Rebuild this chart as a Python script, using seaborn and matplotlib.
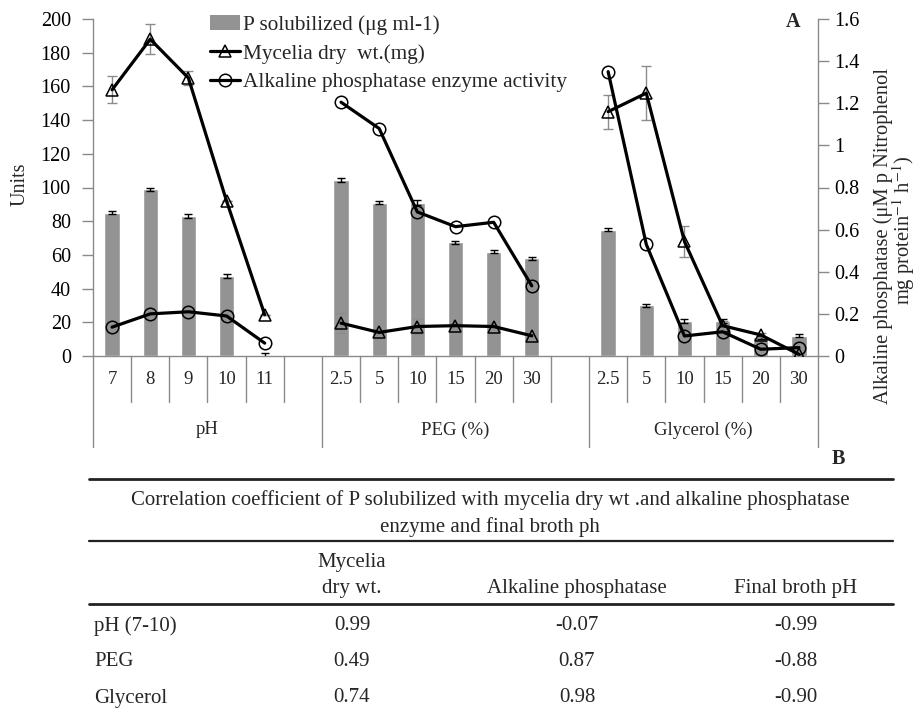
import numpy as np
import pandas as pd
import matplotlib
matplotlib.use("Agg")
import matplotlib.pyplot as plt
from matplotlib.lines import Line2D
from matplotlib.patches import Patch
from matplotlib.ticker import FuncFormatter
import seaborn as sns

# ---------------- data ----------------
groups = ["pH", "PEG (%)", "Glycerol (%)"]
ph_levels = ["7", "8", "9", "10", "11"]
peg_levels = ["2.5", "5", "10", "15", "20", "30"]
gly_levels = ["2.5", "5", "10", "15", "20", "30"]

p_sol_ph = [85, 99, 83, 47.5, 0.5]
p_sol_peg = [104.5, 91, 91, 67.5, 62, 58]
p_sol_gly = [75, 30, 21, 20.5, 11, 12]
p_err_ph = [1, 1, 1, 1.2, 1]
p_err_peg = [1, 1, 1.5, 1, 1, 1]
p_err_gly = [1, 1, 1.2, 1.2, 1, 1]

myc_ph = [158, 188, 165, 92, 24.5]
myc_peg = [19.5, 14, 17.5, 18, 17.5, 12]
myc_gly = [145, 156, 68, 18, 12.5, 1]
myc_err_ph = [8, 9, 4, 0, 0]
myc_err_peg = [6, 1, 4.5, 1.5, 1, 1]
myc_err_gly = [10, 16, 9, 3, 1, 1]

alk_ph = [0.137, 0.20, 0.21, 0.19, 0.061]
alk_peg = [1.205, 1.08, 0.684, 0.614, 0.635, 0.333]
alk_gly = [1.35, 0.53, 0.095, 0.115, 0.032, 0.04]

legend_labels = ["P solubilized (\u03bcg ml-1)", "Mycelia dry  wt.(mg)",
                 "Alkaline phosphatase enzyme activity"]

table_title = ["Correlation coefficient of P solubilized with mycelia dry wt .and alkaline phosphatase",
               "enzyme and final broth ph"]
table_cols = ["Mycelia\ndry wt.", "Alkaline phosphatase", "Final broth pH"]
table_rows = ["pH (7-10)", "PEG", "Glycerol"]
corr_mycelia = [0.99, 0.49, 0.74]
corr_alkaline = [-0.07, 0.87, 0.98]
corr_final_ph = [-0.99, -0.88, -0.90]

# ---------------- build long table ----------------
levels = [ph_levels, peg_levels, gly_levels]
psol = [p_sol_ph, p_sol_peg, p_sol_gly]
perr = [p_err_ph, p_err_peg, p_err_gly]
myc = [myc_ph, myc_peg, myc_gly]
mycerr = [myc_err_ph, myc_err_peg, myc_err_gly]
alk = [alk_ph, alk_peg, alk_gly]

rows = []
group_bounds = []
offset = 0
for gi, g in enumerate(groups):
    start = offset
    for li, lev in enumerate(levels[gi]):
        rows.append(dict(slot=offset + li, group=g, level=lev,
                         P=psol[gi][li], P_err=perr[gi][li],
                         myc=myc[gi][li], myc_err=mycerr[gi][li],
                         alk=alk[gi][li]))
    n = len(levels[gi]) + (1 if gi < len(groups) - 1 else 0)
    group_bounds.append((start, start + n))
    offset += n
n_slots = offset
df = pd.DataFrame(rows)

# ---------------- style ----------------
sns.set_theme(style="white")
serif = ["Liberation Serif", "DejaVu Serif"]
plt.rcParams["font.family"] = serif
plt.rcParams["mathtext.fontset"] = "stix"
gray_axis = "#8a8a8a"
bar_color = "#939393"

W, H = 920, 712
fig = plt.figure(figsize=(W / 100, H / 100), dpi=100)
fig.patch.set_facecolor("white")

ax_l, ax_r, ax_t, ax_b = 93, 818, 19, 356
ax = fig.add_axes([ax_l / W, 1 - ax_b / H, (ax_r - ax_l) / W, (ax_b - ax_t) / H])

sns.barplot(data=df, x="slot", y="P", order=list(range(n_slots)), color=bar_color,
            saturation=1, width=0.4, errorbar=None, ax=ax, zorder=1)
ax.errorbar(df["slot"], df["P"], yerr=df["P_err"], fmt="none", ecolor="black",
            elinewidth=1.0, capsize=3, capthick=1.0, zorder=2)

ax.errorbar(df["slot"], df["myc"], yerr=df["myc_err"], fmt="none", ecolor="#8c8c8c",
            elinewidth=1.0, capsize=3.5, capthick=1.0, zorder=3)
sns.lineplot(data=df, x="slot", y="myc", units="group", estimator=None, color="black",
             lw=2.3, marker="^", markersize=9, markerfacecolor="none",
             markeredgecolor="black", markeredgewidth=1.1, legend=False, ax=ax, zorder=4)

ax2 = ax.twinx()
sns.lineplot(data=df, x="slot", y="alk", units="group", estimator=None, color="black",
             lw=2.3, marker="o", markersize=9, markerfacecolor="none",
             markeredgecolor="black", markeredgewidth=1.1, legend=False, ax=ax2, zorder=4)

ax.set_xlim(-0.5, n_slots - 0.5)
ax.set_ylim(0, 200)
ax2.set_ylim(0, 1.6)
ax.set_yticks(np.arange(0, 201, 20))
ax2.set_yticks(np.arange(0, 1.61, 0.2))
ax2.yaxis.set_major_formatter(FuncFormatter(lambda v, p: "%g" % round(v, 2)))
for a in (ax, ax2):
    a.set_xlabel("")
    a.set_ylabel("")
    a.grid(False)
    a.set_facecolor("none")
    for s in a.spines.values():
        s.set_color(gray_axis)
        s.set_linewidth(1.0)
    a.spines["top"].set_visible(False)
ax.spines["right"].set_visible(False)
ax2.spines["left"].set_visible(False)
ax2.spines["bottom"].set_visible(False)
ax.tick_params(axis="x", length=0, labelbottom=False)
ax.tick_params(axis="y", direction="out", length=8, width=1, color=gray_axis,
               labelsize=14.5, pad=8, labelcolor="black")
ax2.tick_params(axis="y", direction="out", length=8, width=1, color=gray_axis,
                labelsize=14.5, pad=4, labelcolor="black")

# category separators and labels under the axis
xt = ax.get_xaxis_transform()
short_y = -(402 - ax_b) / (ax_b - ax_t)
long_y = -(447 - ax_b) / (ax_b - ax_t)
tick_y = -(380 - ax_b) / (ax_b - ax_t)
grp_y = -(430 - ax_b) / (ax_b - ax_t)
long_pos = set()
for (s, e) in group_bounds:
    long_pos.add(s - 0.5)
    long_pos.add(e - 0.5)
for k in range(n_slots + 1):
    xpos = k - 0.5
    y1 = long_y if xpos in long_pos else short_y
    ax.plot([xpos, xpos], [0, y1], transform=xt, color=gray_axis, lw=1.0, clip_on=False)
for _, r in df.iterrows():
    ax.text(r["slot"], tick_y, r["level"], transform=xt, ha="center", va="center",
            fontsize=13.5)
for gi, (s, e) in enumerate(group_bounds):
    ax.text((s + e - 1) / 2, grp_y, groups[gi], transform=xt, ha="center", va="center",
            fontsize=13.5)

# axis titles & panel letters
fig.text(20 / W, 1 - 184 / H, "Units", rotation=90, ha="center", va="center", fontsize=14.5)
fig.text(883 / W, 1 - 236 / H, "Alkaline phosphatase (\u03bcM p Nitrophenol",
         rotation=90, ha="center", va="center", fontsize=14.8)
fig.text(904 / W, 1 - 230 / H, r"mg protein$^{-1}$ h$^{-1}$)", rotation=90,
         ha="center", va="center", fontsize=14.8)
fig.text(793 / W, 1 - 22 / H, "A", fontsize=14.5, fontweight="bold", ha="center", va="center")
fig.text(838 / W, 1 - 459 / H, "B", fontsize=14.5, fontweight="bold", ha="center", va="center")

# legend
handles = [Patch(facecolor=bar_color, edgecolor="none"),
           Line2D([], [], color="black", lw=2.3, marker="^", markersize=9,
                  markerfacecolor="none", markeredgewidth=1.1),
           Line2D([], [], color="black", lw=2.3, marker="o", markersize=9,
                  markerfacecolor="none", markeredgewidth=1.1)]
fig.legend(handles, legend_labels, loc="upper left", bbox_to_anchor=(210 / W, 1 - 15 / H),
           frameon=False, fontsize=15.3, handlelength=1.4, handletextpad=0.15,
           labelspacing=0.42, borderpad=0, borderaxespad=0)

# ---------------- table ----------------
def hline(y, lw):
    fig.add_artist(Line2D([89 / W, 893 / W], [1 - y / H, 1 - y / H], color="#222222",
                          lw=lw))

tfs = 15
hline(479, 2.0)
hline(541, 1.6)
hline(604, 2.0)
fig.text(490 / W, 1 - 500 / H, table_title[0], ha="center", va="center", fontsize=tfs)
fig.text(490 / W, 1 - 527 / H, table_title[1], ha="center", va="center", fontsize=tfs)
col_x = [352, 577, 796]
fig.text(col_x[0] / W, 1 - 563 / H, table_cols[0].split("\n")[0], ha="center", va="center",
         fontsize=tfs)
fig.text(col_x[0] / W, 1 - 588 / H, table_cols[0].split("\n")[1], ha="center", va="center",
         fontsize=tfs)
fig.text(col_x[1] / W, 1 - 588 / H, table_cols[1], ha="center", va="center", fontsize=tfs)
fig.text(col_x[2] / W, 1 - 588 / H, table_cols[2], ha="center", va="center", fontsize=tfs)
row_y = [626, 662, 698]
for i, rl in enumerate(table_rows):
    fig.text(94 / W, 1 - row_y[i] / H, rl, ha="left", va="center", fontsize=tfs)
    for j, vals in enumerate([corr_mycelia, corr_alkaline, corr_final_ph]):
        fig.text(col_x[j] / W, 1 - row_y[i] / H, "%.2f" % vals[i], ha="center",
                 va="center", fontsize=tfs)

fig.savefig("out.png", dpi=100, facecolor="white")
